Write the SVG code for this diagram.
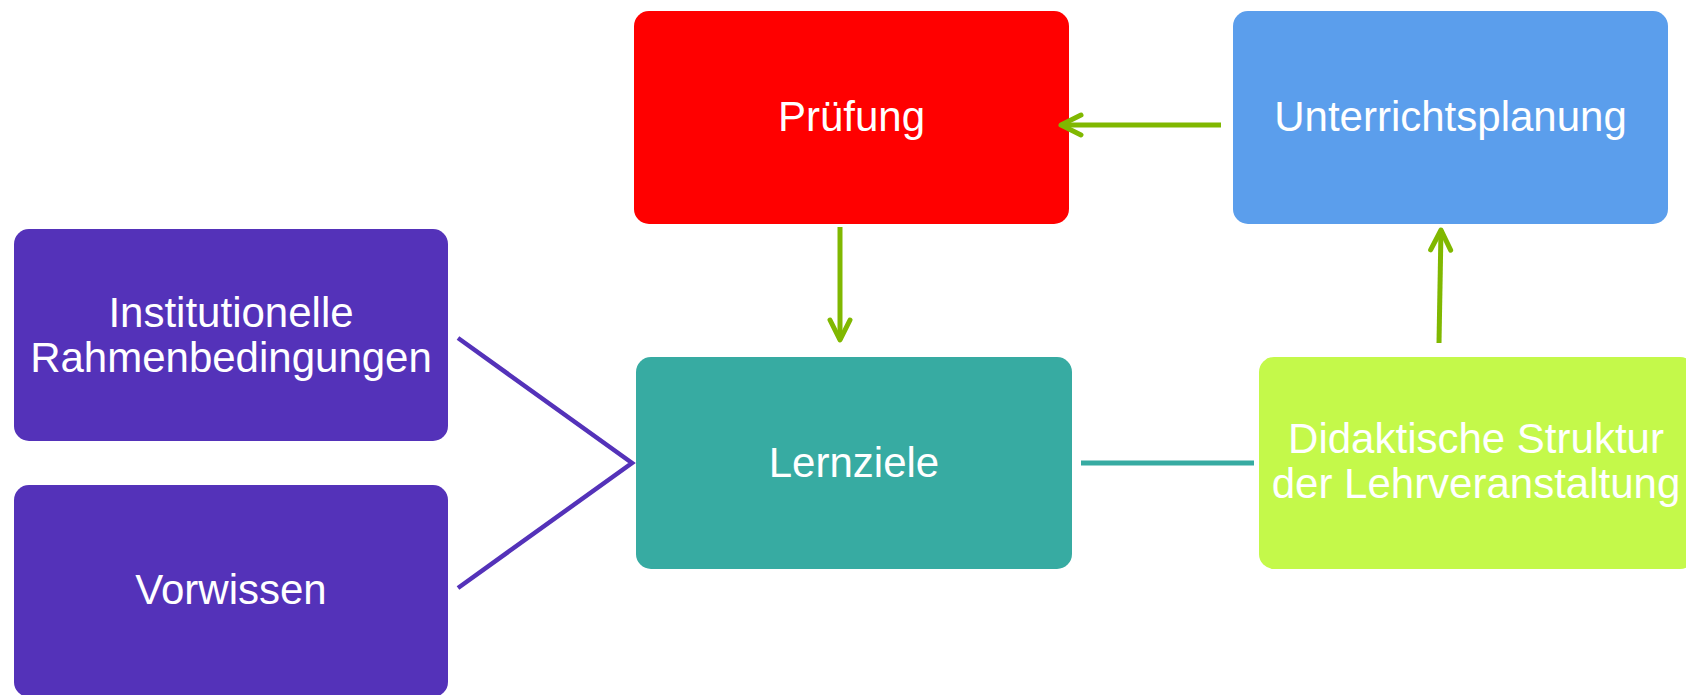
<svg xmlns="http://www.w3.org/2000/svg" width="1686" height="695" viewBox="0 0 1686 695">
<style>
.lbl{font-family:"Liberation Sans",Arial,sans-serif;font-size:42px;fill:#ffffff;text-anchor:middle}
.arr{stroke:#80B800;stroke-width:5;fill:none}
</style>
<defs>
<marker id="chev" markerUnits="userSpaceOnUse" markerWidth="40" markerHeight="40" viewBox="-30 -20 40 40" refX="0" refY="0" orient="auto">
<path d="M-20,-10 L0,0 L-20,10" fill="none" stroke="#80B800" stroke-width="5" stroke-linecap="round" stroke-linejoin="round"/>
</marker>
</defs>
<rect width="1686" height="695" fill="#ffffff"/>
<g id="pruefung">
<rect x="634" y="11" width="435" height="213" rx="15" fill="#FF0000"/>
<text class="lbl" x="851.5" y="131">Prüfung</text>
</g>
<g id="unterrichtsplanung">
<rect x="1233" y="11" width="435" height="213" rx="15" fill="#5B9EEC"/>
<text class="lbl" x="1450.5" y="131">Unterrichtsplanung</text>
</g>
<g id="institutionelle">
<rect x="14" y="229" width="434" height="212" rx="15" fill="#5432B9"/>
<text class="lbl" x="231" y="327">Institutionelle</text>
<text class="lbl" x="231" y="372">Rahmenbedingungen</text>
</g>
<g id="vorwissen">
<rect x="14" y="485" width="434" height="212" rx="15" fill="#5432B9"/>
<text class="lbl" x="231" y="604">Vorwissen</text>
</g>
<g id="lernziele">
<rect x="636" y="357" width="436" height="212" rx="15" fill="#37ABA2"/>
<text class="lbl" x="854" y="477">Lernziele</text>
</g>
<g id="didaktische">
<rect x="1259" y="357" width="436" height="212" rx="15" fill="#C4F94A"/>
<text class="lbl" x="1476" y="453">Didaktische Struktur</text>
<text class="lbl" x="1476" y="498">der Lehrveranstaltung</text>
</g>
<g id="connectors">
<line class="arr" x1="1221" y1="125" x2="1061" y2="125" marker-end="url(#chev)"/>
<line class="arr" x1="840" y1="227" x2="840" y2="340" marker-end="url(#chev)"/>
<line class="arr" x1="1439" y1="343" x2="1441" y2="230" marker-end="url(#chev)"/>
<line x1="1081" y1="463" x2="1254" y2="463" stroke="#37ABA2" stroke-width="5"/>
<polyline points="458,338 632,463 458,588" fill="none" stroke="#5432B9" stroke-width="4.5"/>
</g>
</svg>
